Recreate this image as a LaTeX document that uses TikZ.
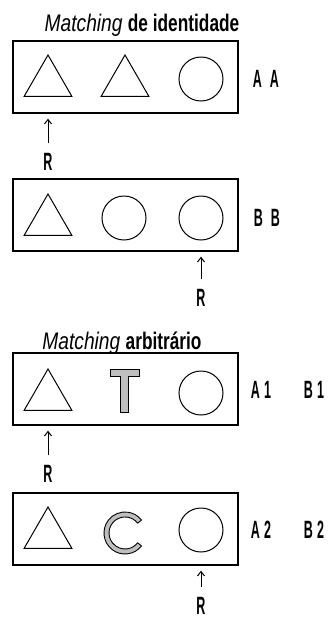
\documentclass[tikz,border=0pt]{standalone}
\usepackage{fontspec}
\setmainfont{Liberation Sans}[FakeStretch=0.8]
\newfontfamily\condfont{Liberation Sans}[FakeStretch=0.72]
\newfontfamily\narrowfont{Liberation Sans}[FakeStretch=0.5]
\usetikzlibrary{shapes.geometric, arrows.meta}

\begin{document}
\begin{tikzpicture}[x=1pt, y=-1pt, >={Straight Barb[length=4.5pt,width=7pt]},
    box/.style={draw, line width=1.3pt, minimum width=225pt, minimum height=72pt, inner sep=0pt},
    tri/.style={draw, line width=1pt, regular polygon, regular polygon sides=3, minimum size=55pt, inner sep=0pt},
    ring/.style={draw, line width=1pt, circle, minimum size=44pt, inner sep=0pt},
    glyph/.style={draw, line width=0.9pt, fill=gray!50},
    lbl/.style={font=\narrowfont\bfseries\fontsize{25}{29}\selectfont, inner sep=1pt},
    ttl/.style={font=\fontsize{24}{28}\selectfont, anchor=base, inner sep=0pt},
    arr/.style={->, line width=1pt, shorten <=9pt, shorten >=5pt}]
    \useasboundingbox (0,0) rectangle (331,619);

    \node[ttl] (t1) at (142,31) {\textit{Matching} {\condfont\bfseries de identidade}};
    \node[box] (b1) at (125.5,77) {};
    \node[tri] (b1a) at (48,82.5) {};
    \node[tri] (b1b) at (125,82.5) {};
    \node[ring] (b1c) at (201,79) {};
    \node[lbl] (l1) at (266,79) {A\hspace{8pt}A};
    \node[lbl] (r1) at (48,162) {R};

    \node[box] (b2) at (125.5,215) {};
    \node[tri] (b2a) at (48,221.5) {};
    \node[ring] (b2b) at (124,218) {};
    \node[ring] (b2c) at (201,218) {};
    \node[lbl] (l2) at (267,218) {B\hspace{8pt}B};
    \node[lbl] (r2) at (201,298) {R};

    \node[ttl] (t2) at (122,349) {\textit{Matching} {\condfont\bfseries arbitrário}};
    \node[box] (b3) at (125.5,389) {};
    \node[tri] (b3a) at (48,396.5) {};
    \node[ring] (b3c) at (201,393) {};
    \node[lbl] (l3a) at (261,390) {A\,1};
    \node[lbl] (l3b) at (314,390) {B\,1};
    \node[lbl] (r3) at (48,474) {R};

    \node[box] (b4) at (125.5,529) {};
    \node[tri] (b4a) at (48,534.5) {};
    \node[ring] (b4c) at (201,530) {};
    \node[lbl] (l4a) at (261,530) {A\,2};
    \node[lbl] (l4b) at (314,530) {B\,2};
    \node[lbl] (r4) at (201,606) {R};

    \draw[glyph] (110,369) -- (139,369) -- (139,376) -- (128,376) -- (128,412)
        -- (120,412) -- (120,376) -- (110,376) -- cycle;
    \draw[glyph] (125,533) ++(38:21) arc (38:322:21) -- ++(-3.9,3.05)
        arc (322:38:16) -- cycle;

    \draw (r1) edge[arr] (r1 |- b1.south)
          (r2) edge[arr] (r2 |- b2.south)
          (r3) edge[arr] (r3 |- b3.south)
          (r4) edge[arr] (r4 |- b4.south);
\end{tikzpicture}
\end{document}
